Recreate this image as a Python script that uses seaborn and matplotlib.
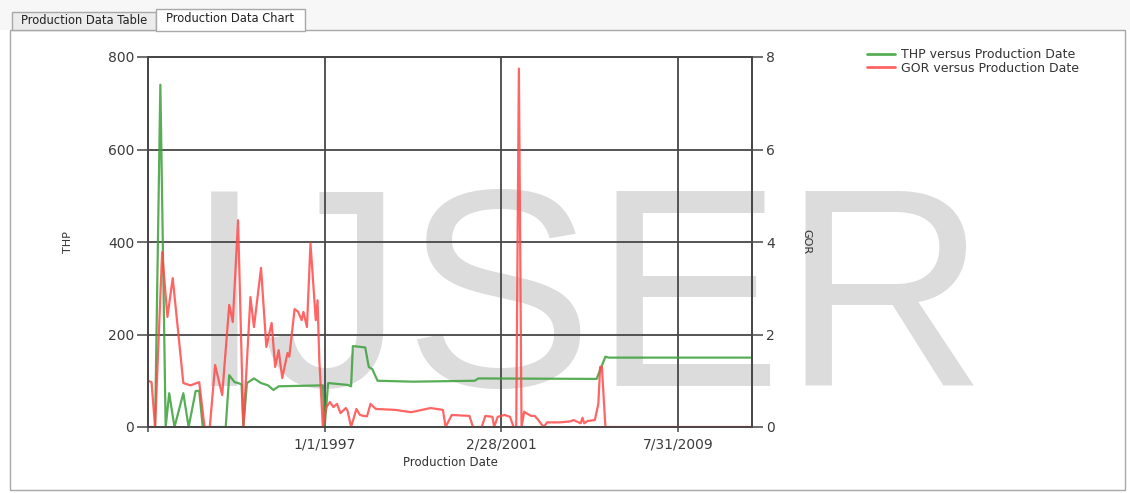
import matplotlib
matplotlib.use("Agg")
import matplotlib.pyplot as plt
import seaborn as sns
import pandas as pd
from matplotlib.patches import Rectangle
from matplotlib.lines import Line2D

# ---------------- data (record index along the category axis) ----------------
thp_idx = [0, 4, 7, 10, 12, 15, 20, 23, 27, 29, 31, 44, 46, 49, 51, 53, 54, 56, 60,
           64, 68, 71, 74, 99, 100, 102, 113, 115, 116, 123, 125, 127, 130, 150,
           185, 187, 254, 259, 261, 341]
thp_val = [0, 0, 740, 0, 73, 0, 73, 0, 78, 78, 0, 0, 112, 97, 95, 92, 0, 95, 105,
           95, 90, 80, 88, 90, 0, 95, 91, 88, 175, 172, 130, 125, 100, 98,
           100, 105, 104, 152, 150, 150]

gor_idx = [0, 2, 4, 8, 11, 14, 20, 24, 29, 32, 35, 38, 42, 46, 48, 51, 54, 58, 60,
           64, 67, 70, 72, 74, 76, 79, 80, 83, 85, 87, 88, 90, 92, 95, 96, 97, 99,
           101, 103, 105, 107, 109, 112, 113, 115, 118, 120, 122, 124, 126, 129,
           140, 149, 160, 167, 168.5, 172, 182, 184, 189, 191, 195, 196, 198, 202,
           205, 207, 208.5, 210, 211.5, 213, 215, 217, 219, 221, 224, 226, 233,
           239, 241, 245, 246, 247, 249, 253, 255, 256, 257, 259, 341]
gor_val = [1.0, 0.97, 0, 3.78, 2.38, 3.22, 0.95, 0.9, 0.97, 0, 0, 1.34, 0.69, 2.64,
           2.27, 4.47, 0, 2.81, 2.16, 3.44, 1.73, 2.25, 1.3, 1.66, 1.06, 1.6, 1.52,
           2.55, 2.49, 2.31, 2.49, 2.16, 3.97, 2.31, 2.74, 1.45, 0,
           0.43, 0.54, 0.43, 0.5, 0.3, 0.41, 0.35, 0, 0.39, 0.26, 0.24, 0.23, 0.5,
           0.39, 0.37, 0.32, 0.41, 0.37, 0, 0.26, 0.24, 0, 0, 0.24, 0.22, 0, 0.22,
           0.26, 0.22, 0, 0, 7.75, 0, 0.33, 0.28, 0.24, 0.24, 0.15, 0, 0.1, 0.1,
           0.12, 0.15, 0.08, 0.2, 0.08, 0.13, 0.15, 0.5, 1.3, 1.3, 0, 0]

x_tick_pos = [0, 100, 200, 300]
x_tick_labels = ["", "1/1/1997", "2/28/2001", "7/31/2009"]
thp_ticks = [0, 200, 400, 600, 800]
gor_ticks = [0, 2, 4, 6, 8]

thp_df = pd.DataFrame({"idx": thp_idx, "THP": thp_val})
gor_df = pd.DataFrame({"idx": gor_idx, "GOR": gor_val})

# ---------------- styling ----------------
sns.set_theme(style="white")
plt.rcParams["font.family"] = ["DejaVu Sans"]

W, H = 1130, 493
fig = plt.figure(figsize=(W / 100, H / 100), dpi=100)
fig.patch.set_facecolor("white")


def fx(px):
    return px / W


def fy(py):
    return 1 - py / H


# window chrome: tab strip, tabs and panel
fig.patches.append(Rectangle((0, fy(30)), 1, fy(0) - fy(30), transform=fig.transFigure,
                             facecolor="#f7f7f7", edgecolor="none", zorder=0))
fig.patches.append(Rectangle((fx(10), fy(490)), fx(1125) - fx(10), fy(30) - fy(490),
                             transform=fig.transFigure, facecolor="white",
                             edgecolor="#a8a8a8", lw=1, zorder=0.1))
fig.patches.append(Rectangle((fx(12), fy(30)), fx(156) - fx(12), fy(12) - fy(30),
                             transform=fig.transFigure, facecolor="#ececec",
                             edgecolor="#a8a8a8", lw=1, zorder=0.2))
fig.patches.append(Rectangle((fx(156), fy(31)), fx(305) - fx(156), fy(9) - fy(31),
                             transform=fig.transFigure, facecolor="white",
                             edgecolor="#a8a8a8", lw=1, zorder=0.3))
fig.text(fx(84), fy(21), "Production Data Table", ha="center", va="center",
         fontsize=8.3, color="#222222", zorder=1)
fig.text(fx(230), fy(19), "Production Data Chart", ha="center", va="center",
         fontsize=8.3, color="#222222", zorder=1)

# watermark
fig.text(fx(586), fy(386), "IJSER", ha="center", va="baseline", fontsize=204,
         family=["Liberation Sans", "DejaVu Sans"], color="#dcdcdc", zorder=0.5)

# ---------------- axes ----------------
ax = fig.add_axes([fx(148), fy(427), fx(752) - fx(148), fy(57) - fy(427)])
ax.set_zorder(1)
ax.patch.set_visible(False)

green = "#3aa03a"
red = "#ff4a4a"
grid_c = "#474747"

sns.lineplot(data=thp_df, x="idx", y="THP", ax=ax, color=green, lw=1.6, alpha=0.85,
             estimator=None, sort=False, legend=False)
ax2 = ax.twinx()
ax2.patch.set_visible(False)
sns.lineplot(data=gor_df, x="idx", y="GOR", ax=ax2, color=red, lw=1.6, alpha=0.85,
             estimator=None, sort=False, legend=False)

ax.set_xlim(0, 342)
ax.set_ylim(0, 800)
ax2.set_ylim(0, 8)
ax.set_xticks(x_tick_pos, x_tick_labels)
ax.set_yticks(thp_ticks)
ax2.set_yticks(gor_ticks)

ax.grid(True, color=grid_c, lw=1.3)
ax.set_axisbelow(True)
for a in (ax, ax2):
    for s in a.spines.values():
        s.set_color(grid_c)
        s.set_linewidth(1.3)

ax.tick_params(axis="y", direction="out", length=8, width=1.1, color=grid_c, pad=2,
               labelsize=10, labelcolor="#3c3c3c", left=True)
ax.tick_params(axis="x", direction="out", length=3.5, width=1.1, color=grid_c, pad=4,
               labelsize=10, labelcolor="#3c3c3c", bottom=True)
ax2.tick_params(axis="y", direction="out", length=8, width=1.1, color=grid_c, pad=2,
                labelsize=10, labelcolor="#3c3c3c", right=True)

ax.set_xlabel("Production Date", fontsize=8.5, color="#333333", va="center")
ax.xaxis.set_label_coords((450 - 148) / 604, (427 - 463) / 370)
ax.set_ylabel("THP", fontsize=8, color="#333333", va="center", ha="center")
ax.yaxis.set_label_coords((68 - 148) / 604, 0.5)
ax2.set_ylabel("GOR", fontsize=8, color="#333333", rotation=-90, va="center", ha="center")
ax2.yaxis.set_label_coords((806 - 148) / 604, 0.5)

handles = [Line2D([], [], color=green, lw=2, alpha=0.85),
           Line2D([], [], color=red, lw=2, alpha=0.85)]
fig.legend(handles, ["THP versus Production Date", "GOR versus Production Date"],
           loc="upper left", bbox_to_anchor=(fx(867), fy(48)), frameon=False,
           fontsize=9, handlelength=2.2, handletextpad=0.5, labelspacing=0.05,
           borderaxespad=0, borderpad=0, labelcolor="#333333")

fig.savefig("out.png", dpi=100)
